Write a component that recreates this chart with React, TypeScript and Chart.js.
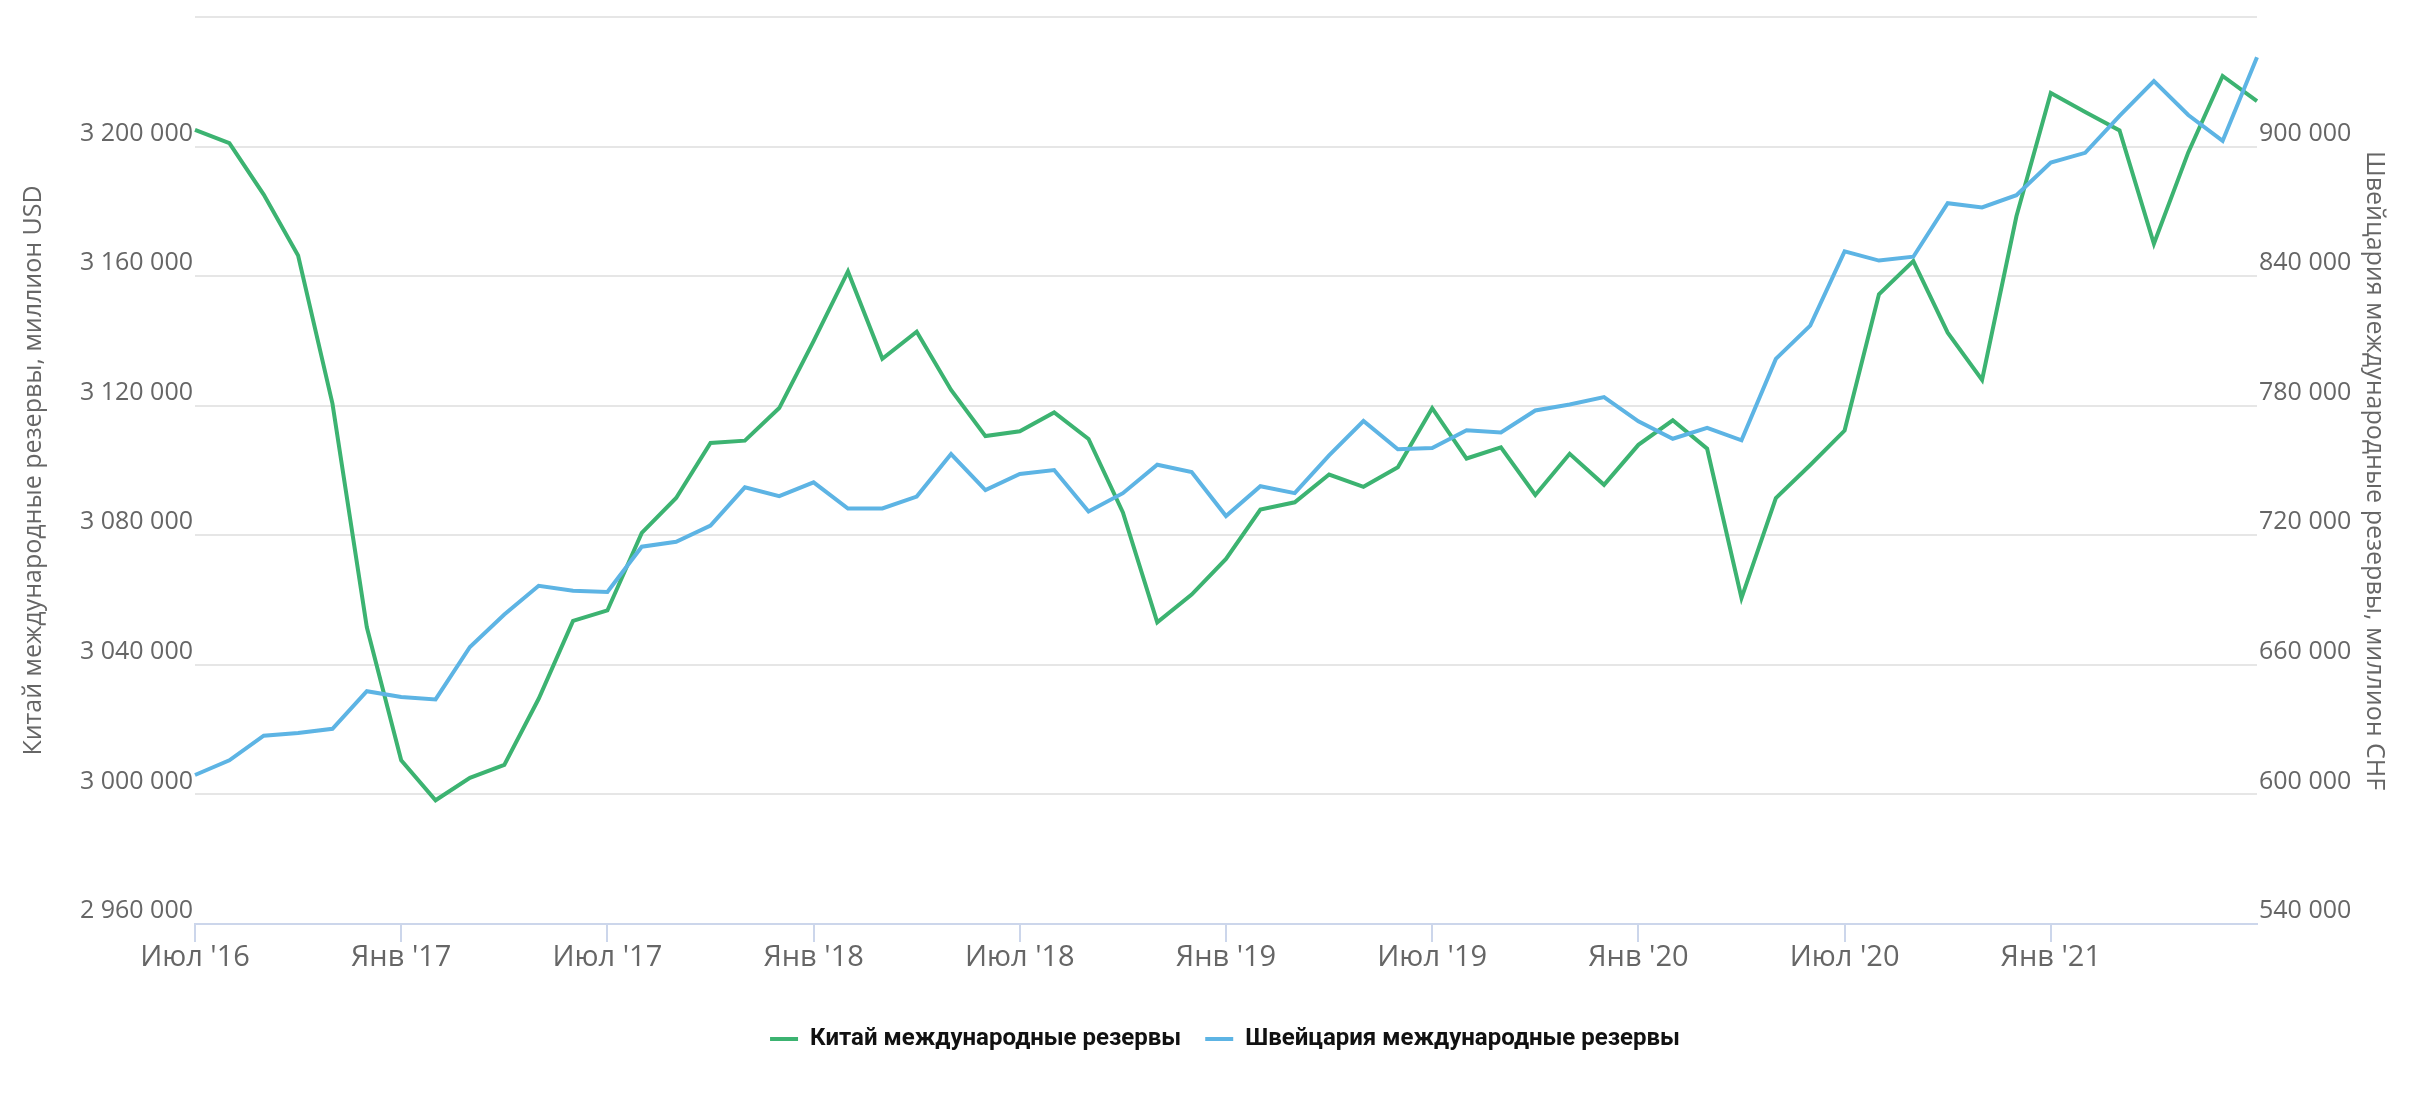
import React, { useEffect, useRef } from 'react';
import { Chart, registerables } from 'chart.js';

Chart.register(...registerables);

// Month categories (Jul '16 .. Jul '21)
const categories: string[] = [
  "Июл '16", "Авг '16", "Сен '16", "Окт '16", "Ноя '16", "Дек '16",
  "Янв '17", "Фев '17", "Мар '17", "Апр '17", "Май '17", "Июн '17",
  "Июл '17", "Авг '17", "Сен '17", "Окт '17", "Ноя '17", "Дек '17",
  "Янв '18", "Фев '18", "Мар '18", "Апр '18", "Май '18", "Июн '18",
  "Июл '18", "Авг '18", "Сен '18", "Окт '18", "Ноя '18", "Дек '18",
  "Янв '19", "Фев '19", "Мар '19", "Апр '19", "Май '19", "Июн '19",
  "Июл '19", "Авг '19", "Сен '19", "Окт '19", "Ноя '19", "Дек '19",
  "Янв '20", "Фев '20", "Мар '20", "Апр '20", "Май '20", "Июн '20",
  "Июл '20", "Авг '20", "Сен '20", "Окт '20", "Ноя '20", "Дек '20",
  "Янв '21", "Фев '21", "Мар '21", "Апр '21", "Май '21", "Июн '21",
  "Июл '21",
];

// Tick labels shown on the x axis
const xTickLabels: string[] = [
  "Июл '16", "Янв '17", "Июл '17", "Янв '18", "Июл '18",
  "Янв '19", "Июл '19", "Янв '20", "Июл '20", "Янв '21",
];

// China international reserves, million USD
const chinaReserves: number[] = [
  3205160, 3201060, 3185170, 3166380, 3120660, 3051600, 3010520, 2998200, 3005120, 3009090,
  3029530, 3053570, 3056790, 3080720, 3091530, 3108510, 3109210, 3119280, 3139950, 3161460,
  3134480, 3142820, 3124850, 3110620, 3112130, 3117940, 3109720, 3087030, 3053100, 3061700,
  3072710, 3087920, 3090180, 3098760, 3094960, 3101000, 3119230, 3103700, 3107180, 3092430,
  3105160, 3095590, 3107920, 3115490, 3106720, 3060630, 3091460, 3101690, 3112330, 3154390,
  3164640, 3142560, 3127990, 3178500, 3216520, 3210700, 3204990, 3170000, 3198200, 3221800,
  3214000,
];

// Switzerland international reserves, million CHF
const swissReserves: number[] = [
  609000, 615800, 627200, 628400, 630400, 647800, 645100, 644000, 668300, 683300,
  696600, 694300, 693700, 714700, 717000, 724500, 742200, 738100, 744500, 732400,
  732400, 737900, 757600, 740900, 748400, 750200, 731000, 739500, 752700, 749300,
  728900, 742700, 739500, 757000, 772900, 759800, 760400, 768600, 767600, 777800,
  780600, 784000, 772800, 764700, 769700, 764000, 801700, 817100, 851500, 847200,
  849000, 873800, 871800, 877500, 892600, 897100, 914200, 930300, 914600, 902600,
  941400,
];

const seriesNames: string[] = ['Китай международные резервы', 'Швейцария международные резервы'];
const leftTitle = 'Китай международные резервы, миллион USD';
const rightTitle = 'Швейцария международные резервы, миллион CHF';

const GREEN = '#3cb371';
const BLUE = '#5db4e4';
const AXIS = '#ccd6eb';
const GRID = '#e6e6e6';
const LABEL = '#666666';

const fmt = (v: number) => Math.round(v).toString().replace(/\B(?=(\d{3})+(?!\d))/g, ' ');

export default function App() {
  const ref = useRef<HTMLCanvasElement | null>(null);

  useEffect(() => {
    const canvas = ref.current;
    if (!canvas) return;
    const chart = new Chart(canvas, {
      type: 'line',
      data: {
        labels: categories,
        datasets: [
          {
            label: seriesNames[0],
            data: chinaReserves,
            borderColor: GREEN,
            backgroundColor: GREEN,
            borderWidth: 4,
            pointRadius: 0,
            pointHoverRadius: 0,
            tension: 0,
            yAxisID: 'yLeft',
            order: 1,
          },
          {
            label: seriesNames[1],
            data: swissReserves,
            borderColor: BLUE,
            backgroundColor: BLUE,
            borderWidth: 4,
            pointRadius: 0,
            pointHoverRadius: 0,
            tension: 0,
            yAxisID: 'yRight',
            order: 0,
          },
        ],
      },
      options: {
        responsive: false,
        animation: false,
        devicePixelRatio: 1,
        layout: { padding: { top: 5, bottom: 39, left: 18, right: 0 } },
        plugins: {
          tooltip: { enabled: false },
          legend: {
            position: 'bottom',
            labels: {
              usePointStyle: true,
              pointStyle: 'line',
              pointStyleWidth: 28,
              padding: 24,
              color: '#111111',
              font: { family: 'Roboto', size: 24, weight: 'bold' },
              sort: (a: any, b: any) => a.datasetIndex - b.datasetIndex,
              generateLabels: (c: any) => {
                const items = (Chart.defaults.plugins.legend.labels as any).generateLabels(c);
                items.forEach((it: any) => { it.lineWidth = 4; });
                return items;
              },
            },
          },
        },
        scales: {
          x: {
            type: 'category',
            offset: false,
            grid: { display: true, drawOnChartArea: false, drawTicks: true, tickLength: 18, color: AXIS, lineWidth: 2 },
            border: { display: true, color: AXIS, width: 2 },
            ticks: {
              autoSkip: false,
              maxRotation: 0,
              minRotation: 0,
              padding: -2,
              color: LABEL,
              font: { family: 'Open Sans', size: 29 },
              callback: (_v: any, i: number) => {
                const lbl = categories[i];
                return xTickLabels.includes(lbl) ? lbl : null;
              },
            },
            afterFit: (s: any) => { s.height = 79; },
          },
          yLeft: {
            type: 'linear',
            position: 'left',
            min: 2960000,
            max: 3240000,
            grid: { color: GRID, lineWidth: 2, drawTicks: false },
            border: { display: false },
            ticks: {
              stepSize: 40000,
              padding: 2,
              labelOffset: -13,
              color: LABEL,
              font: { family: 'Open Sans', size: 25 },
              callback: (v: any) => (v >= 3240000 ? '' : fmt(Number(v))),
            },
            title: {
              display: true,
              text: leftTitle,
              color: LABEL,
              font: { family: 'Open Sans', size: 25 },
              padding: { top: 1, bottom: 0 },
            },
            afterFit: (s: any) => { s.width = 177; },
          },
          yRight: {
            type: 'linear',
            position: 'right',
            min: 540000,
            max: 960000,
            grid: { drawOnChartArea: false, drawTicks: false },
            border: { display: false },
            ticks: {
              stepSize: 60000,
              padding: 2,
              labelOffset: -13,
              color: LABEL,
              font: { family: 'Open Sans', size: 25 },
              callback: (v: any) => (v >= 960000 ? '' : fmt(Number(v))),
            },
            title: {
              display: true,
              text: rightTitle,
              color: LABEL,
              font: { family: 'Open Sans', size: 25 },
              padding: { top: 43, bottom: 0 },
            },
            afterFit: (s: any) => { s.width = 175; },
          },
        },
      },
    } as any);
    return () => chart.destroy();
  }, []);

  return (
    <div style={{ position: 'fixed', left: 0, top: 0, width: 2432, height: 1100, background: '#ffffff' }}>
      <canvas ref={ref} width={2432} height={1100} style={{ display: 'block', width: 2432, height: 1100 }} />
    </div>
  );
}
